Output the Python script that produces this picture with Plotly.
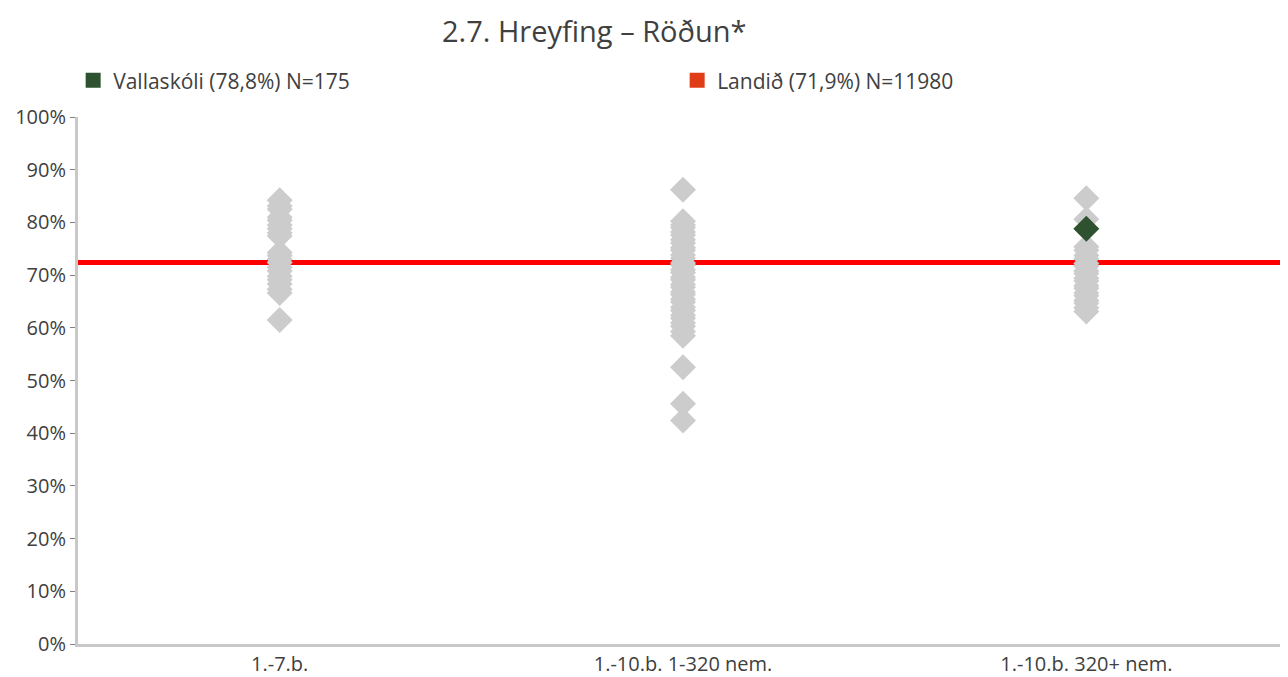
import plotly.graph_objects as go

categories = ["1.-7.b.", "1.-10.b. 1-320 nem.", "1.-10.b. 320+ nem."]

schools_1_7 = [84.2, 83.1, 82.5, 81.0, 80.4, 79.5, 78.8, 78.0, 77.4, 74.3, 73.7, 73.0,
               72.4, 71.5, 70.8, 69.8, 69.1, 68.3, 67.3, 66.6, 61.5]
schools_small = [86.2, 80.2, 79.5, 79.0, 78.2, 77.6, 76.7, 76.1, 75.2, 74.7, 73.8, 73.2,
                 72.3, 71.9, 71.0, 70.5, 69.6, 69.1, 68.2, 67.7, 66.8, 66.3, 65.4, 64.9,
                 63.9, 63.3, 62.4, 61.8, 60.9, 60.3, 59.3, 58.5, 52.5, 45.6, 42.4]
schools_large = [84.6, 80.6, 75.4, 74.7, 73.7, 73.1, 72.2, 71.7, 70.8, 70.3, 69.4, 68.9,
                 68.0, 67.5, 66.6, 66.1, 65.2, 64.7, 63.8, 63.1]

vallaskoli_cat = "1.-10.b. 320+ nem."
vallaskoli_value = 78.8
vallaskoli_label = "Vallaskóli (78,8%) N=175"
landid_value = 72.4
landid_label = "Landið (71,9%) N=11980"

y_ticks = list(range(0, 101, 10))

font = "Open Sans"
fig = go.Figure()

groups = [schools_1_7, schools_small, schools_large]
xs, ys = [], []
for cat, vals in zip(categories, groups):
    xs += [cat] * len(vals)
    ys += vals

fig.add_trace(go.Scatter(
    x=xs, y=ys, mode="markers", showlegend=False,
    marker=dict(symbol="diamond", size=20, color="#CCCCCC", line=dict(width=0)),
    hoverinfo="skip"))

fig.add_trace(go.Scatter(
    x=[vallaskoli_cat], y=[vallaskoli_value], mode="markers", name=vallaskoli_label,
    marker=dict(symbol="diamond", size=20, color="#2E5230", line=dict(width=0)),
    showlegend=False))

# legend entries
fig.add_trace(go.Scatter(
    x=[None], y=[None], mode="markers", name=vallaskoli_label,
    marker=dict(symbol="square", size=15, color="#2E5230")))
fig.add_trace(go.Scatter(
    x=[None], y=[None], mode="markers", name=landid_label,
    marker=dict(symbol="square", size=15, color="#E03C17")))

fig.add_hline(y=landid_value, line=dict(color="#FF0000", width=5), layer="below")

fig.update_layout(
    width=1280, height=669,
    paper_bgcolor="white", plot_bgcolor="white",
    margin=dict(l=70, r=0, t=109, b=26),
    font=dict(family=font, color="#404040"),
    title=dict(text="2.7. Hreyfing – Röðun*", x=0.458, xanchor="center",
               y=0.964, yanchor="middle",
               font=dict(family=font, size=29, color="#404040")),
    legend=dict(orientation="h", x=-0.004, xanchor="left", y=1.03, yanchor="bottom",
                entrywidth=559, entrywidthmode="pixels",
                font=dict(family=font, size=21, color="#404040"),
                bgcolor="rgba(0,0,0,0)", itemclick=False),
    xaxis=dict(type="category", categoryorder="array", categoryarray=categories,
               range=[-0.5, 2.5], showgrid=False, zeroline=False,
               showline=True, linecolor="#C8C8C8", linewidth=3,
               ticks="", tickfont=dict(size=20, color="#404040")),
    yaxis=dict(range=[0, 100], tickvals=y_ticks, ticktext=[f"{v}%" for v in y_ticks],
               showgrid=False, zeroline=False,
               showline=True, linecolor="#C8C8C8", linewidth=3,
               ticks="outside", ticklen=5, tickcolor="#808080", tickwidth=1,
               tickfont=dict(size=20, color="#404040")),
)

fig.write_html("out.html")
